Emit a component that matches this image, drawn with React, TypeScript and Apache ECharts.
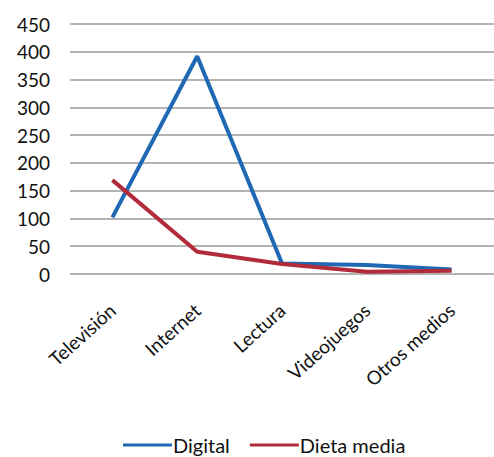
import React, { useEffect, useRef } from "react";
import * as echarts from "echarts";

const categories = ["Televisión", "Internet", "Lectura", "Videojuegos", "Otros medios"];
const digital = [102, 392, 19, 16, 8];
const dietaMedia = [169, 40, 18, 4, 6];
const seriesNames = ["Digital", "Dieta media"];

const FONT = "Lato, 'Open Sans', sans-serif";

export default function App() {
  const ref = useRef<HTMLDivElement>(null);
  useEffect(() => {
    if (!ref.current) return;
    const chart = echarts.init(ref.current, null, { renderer: "svg" });
    chart.setOption({
      animation: false,
      backgroundColor: "#ffffff",
      textStyle: { fontFamily: FONT },
      grid: { left: 70, right: -9, top: 24, bottom: 183, containLabel: false },
      legend: {
        top: 430,
        left: 118,
        itemWidth: 49,
        itemHeight: 3,
        itemGap: 20,
        icon: "rect",
        textStyle: { fontSize: 20, color: "#111", fontFamily: FONT, padding: [0, 0, 0, -4] },
        data: seriesNames,
      },
      xAxis: {
        type: "category",
        data: categories,
        boundaryGap: true,
        axisLine: { show: false },
        axisTick: { show: false },
        axisLabel: {
          rotate: 42,
          fontSize: 19,
          color: "#111",
          margin: 33,
          fontFamily: FONT,
          interval: 0,
        },
      },
      yAxis: {
        type: "value",
        min: 0,
        max: 450,
        interval: 50,
        axisLine: { show: false },
        axisTick: { show: false },
        axisLabel: { fontSize: 19, color: "#111", margin: 20, fontFamily: FONT },
        splitLine: { lineStyle: { color: "#9a9a9a", width: 1.5 } },
      },
      series: [
        {
          name: seriesNames[0],
          type: "line",
          data: digital,
          symbol: "none",
          lineStyle: { color: "#1f68b3", width: 4 },
          itemStyle: { color: "#1f68b3" },
        },
        {
          name: seriesNames[1],
          type: "line",
          data: dietaMedia,
          symbol: "none",
          lineStyle: { color: "#b22b3a", width: 4 },
          itemStyle: { color: "#b22b3a" },
        },
      ],
    });
    return () => chart.dispose();
  }, []);
  return (
    <div
      ref={ref}
      style={{ position: "fixed", left: 0, top: 0, width: 494, height: 457 }}
    />
  );
}
